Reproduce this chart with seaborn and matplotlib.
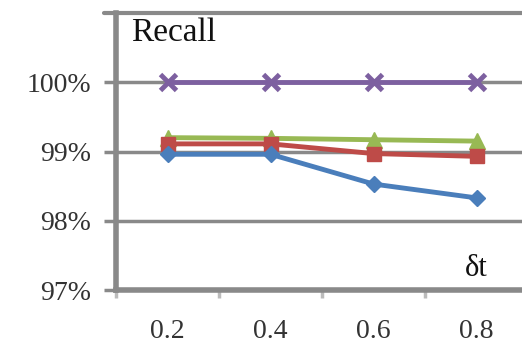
import numpy as np
import pandas as pd
import seaborn as sns
from matplotlib import pyplot as plt

# data
delta_t = ["0.2", "0.4", "0.6", "0.8"]
blue_vals = [0.9896, 0.9896, 0.9853, 0.9833]
red_vals = [0.9911, 0.9911, 0.9897, 0.9893]
green_vals = [0.9920, 0.9919, 0.9917, 0.9915]
purple_vals = [1.0, 1.0, 1.0, 1.0]
y_ticks = [0.97, 0.98, 0.99, 1.00]
y_labels = ["97%", "98%", "99%", "100%"]

sns.set_theme(style="white")
plt.rcParams['font.family'] = ['Liberation Serif', 'DejaVu Serif']

fig = plt.figure(figsize=(5.22, 3.47), dpi=100)
ax = fig.add_axes([116/522, (347-290)/347, 412/522, (290-13)/347])

pos = np.arange(len(delta_t))
series = [
    ("green", green_vals, "#98b954", "^", 12, 1),
    ("red", red_vals, "#be4b48", "s", 10.5, 1),
    ("blue", blue_vals, "#4a7ebb", "D", 8.5, 1),
    ("purple", purple_vals, "#7d60a0", "x", 11, 3.5),
]
for name, vals, col, mk, ms, mew in series:
    df = pd.DataFrame({"x": pos, "y": vals})
    sns.lineplot(data=df, x="x", y="y", ax=ax, color=col, marker=mk,
                 markersize=ms, markeredgecolor=col, markeredgewidth=mew,
                 linewidth=3.5, zorder=3)

ax.set_xlim(-0.5, 3.5)
ax.set_ylim(0.97, 1.01)
ax.set_yticks(y_ticks)
ax.set_yticklabels(y_labels)
ax.set_xticks(pos)
ax.set_xticklabels(delta_t)
ax.set_xticks(np.arange(-0.5, 3.6, 1.0), minor=True)
ax.set_xlabel("")
ax.set_ylabel("")

gray = "#898989"
for yv in y_ticks[1:]:
    ax.axhline(yv, color=gray, linewidth=2.5, zorder=1)
ax.axhline(1.01, xmin=-0.03, color=gray, linewidth=3, zorder=1, clip_on=False)
for s in ["top", "right"]:
    ax.spines[s].set_visible(False)
for s in ["left", "bottom"]:
    ax.spines[s].set_color(gray)
    ax.spines[s].set_linewidth(4)

ax.tick_params(axis="y", which="major", direction="out", length=9, width=2.5,
               color=gray, left=True, labelsize=20, labelcolor="#333333", pad=9)
ax.tick_params(axis="x", which="major", length=0, labelsize=20,
               labelcolor="#333333", pad=21)
ax.tick_params(axis="x", which="minor", direction="out", length=6, width=2.5,
               color="#bbbbbb", bottom=True)

fig.text(131/522, 1 - 33/347, "Recall", fontsize=24,
         va="center", ha="left", color="#111111")
fig.text(476/522, 1 - 268/347, "δt", fontsize=22,
         va="center", ha="center", color="#111111")

plt.savefig("out.png", dpi=100)
